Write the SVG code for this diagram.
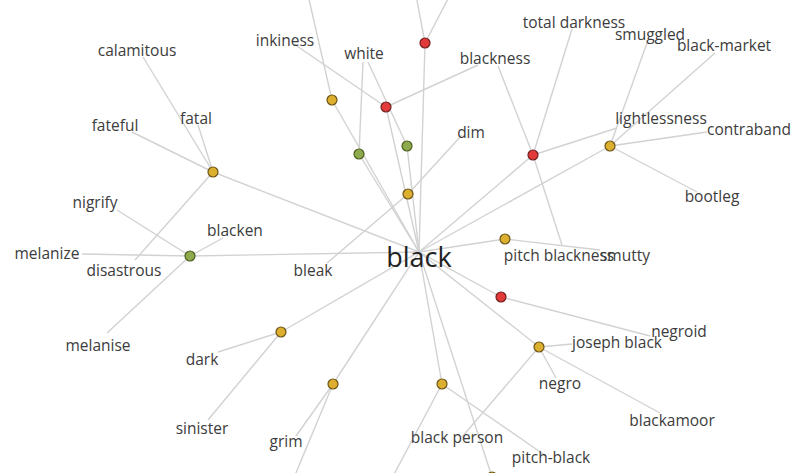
<svg xmlns="http://www.w3.org/2000/svg" width="801" height="473" viewBox="0 0 801 473">
<style>
.e{stroke:#d2d2d2;stroke-width:1.4;fill:none}
.lb{font-family:"Open Sans","Noto Sans",sans-serif;font-size:15.5px;fill:#3c3c3c;text-anchor:middle}
.hub{font-family:"Open Sans","Noto Sans",sans-serif;font-size:27px;fill:#222;text-anchor:middle}
.r{fill:#e23a3a;stroke:#702020;stroke-width:1.2}
.y{fill:#dcb02e;stroke:#6a5418;stroke-width:1.2}
.g{fill:#8daa4c;stroke:#4c5e1e;stroke-width:1.2}
</style>
<rect width="801" height="473" fill="#fff"/>
<g id="connectors">
<!-- hub edges -->
<line class="e" x1="419" y1="252" x2="425" y2="43"/>
<line class="e" x1="419" y1="252" x2="332" y2="100"/>
<line class="e" x1="419" y1="252" x2="359" y2="154"/>
<line class="e" x1="419" y1="252" x2="386" y2="107"/>
<line class="e" x1="419" y1="252" x2="407" y2="146"/>
<line class="e" x1="419" y1="252" x2="213" y2="172"/>
<line class="e" x1="419" y1="252" x2="190" y2="256"/>
<line class="e" x1="419" y1="252" x2="281" y2="332"/>
<line class="e" x1="419" y1="252" x2="333" y2="384"/>
<line class="e" x1="419" y1="252" x2="442" y2="384"/>
<line class="e" x1="419" y1="252" x2="492" y2="477"/>
<line class="e" x1="419" y1="252" x2="539" y2="347"/>
<line class="e" x1="419" y1="252" x2="501" y2="297"/>
<line class="e" x1="419" y1="252" x2="505" y2="239"/>
<line class="e" x1="419" y1="252" x2="533" y2="155"/>
<line class="e" x1="419" y1="252" x2="610" y2="146"/>
<!-- top -->
<line class="e" x1="425" y1="43" x2="416" y2="-5"/>
<line class="e" x1="425" y1="43" x2="450" y2="-5"/>
<line class="e" x1="332" y1="100" x2="308" y2="-5"/>
<line class="e" x1="386" y1="107" x2="294" y2="44"/>
<line class="e" x1="386" y1="107" x2="478" y2="65"/>
<line class="e" x1="363" y1="62" x2="359" y2="154"/>
<line class="e" x1="368" y1="62" x2="407" y2="146"/>
<line class="e" x1="408" y1="194" x2="462" y2="135"/>
<line class="e" x1="408" y1="194" x2="327" y2="263"/>
<!-- left -->
<line class="e" x1="213" y1="172" x2="143" y2="57"/>
<line class="e" x1="213" y1="172" x2="198" y2="125"/>
<line class="e" x1="213" y1="172" x2="132" y2="132"/>
<line class="e" x1="213" y1="172" x2="135" y2="260"/>
<line class="e" x1="190" y1="256" x2="82" y2="254"/>
<line class="e" x1="190" y1="256" x2="117" y2="210"/>
<line class="e" x1="190" y1="256" x2="223" y2="238"/>
<line class="e" x1="190" y1="256" x2="107" y2="333"/>
<line class="e" x1="281" y1="332" x2="218" y2="352"/>
<line class="e" x1="281" y1="332" x2="208" y2="420"/>
<line class="e" x1="333" y1="384" x2="296" y2="436"/>
<line class="e" x1="333" y1="384" x2="293" y2="480"/>
<!-- bottom -->
<line class="e" x1="442" y1="384" x2="391" y2="480"/>
<line class="e" x1="442" y1="384" x2="546" y2="456"/>
<line class="e" x1="539" y1="347" x2="572" y2="344"/>
<line class="e" x1="539" y1="347" x2="556" y2="378"/>
<line class="e" x1="539" y1="347" x2="660" y2="413"/>
<line class="e" x1="539" y1="347" x2="462" y2="437"/>
<line class="e" x1="501" y1="297" x2="650" y2="336"/>
<!-- right -->
<line class="e" x1="505" y1="239" x2="600" y2="250"/>
<line class="e" x1="533" y1="155" x2="572" y2="29"/>
<line class="e" x1="533" y1="155" x2="498" y2="66"/>
<line class="e" x1="533" y1="155" x2="617" y2="128"/>
<line class="e" x1="533" y1="155" x2="562" y2="245"/>
<line class="e" x1="610" y1="146" x2="647" y2="43"/>
<line class="e" x1="610" y1="146" x2="715" y2="53"/>
<line class="e" x1="610" y1="146" x2="707" y2="132"/>
<line class="e" x1="610" y1="146" x2="697" y2="192"/>
</g>
<g id="s-red-top"><circle class="r" cx="425" cy="43" r="5"/></g>
<g id="s-yel-top"><circle class="y" cx="332" cy="100" r="5"/></g>
<g id="s-red-inkiness"><circle class="r" cx="386" cy="107" r="5"/></g>
<g id="s-grn-1"><circle class="g" cx="359" cy="154" r="5"/></g>
<g id="s-grn-2"><circle class="g" cx="407" cy="146" r="5"/></g>
<g id="s-yel-dim"><circle class="y" cx="408" cy="194" r="5"/></g>
<g id="s-yel-fatal"><circle class="y" cx="213" cy="172" r="5"/></g>
<g id="s-grn-blacken"><circle class="g" cx="190" cy="256" r="5"/></g>
<g id="s-yel-dark"><circle class="y" cx="281" cy="332" r="5"/></g>
<g id="s-yel-grim"><circle class="y" cx="333" cy="384" r="5"/></g>
<g id="s-yel-bp"><circle class="y" cx="442" cy="384" r="5"/></g>
<g id="s-yel-bottom"><circle class="y" cx="492" cy="477" r="5"/></g>
<g id="s-yel-negro"><circle class="y" cx="539" cy="347" r="5"/></g>
<g id="s-red-joseph"><circle class="r" cx="501" cy="297" r="5"/></g>
<g id="s-yel-smutty"><circle class="y" cx="505" cy="239" r="5"/></g>
<g id="s-red-darkness"><circle class="r" cx="533" cy="155" r="5"/></g>
<g id="s-yel-smuggled"><circle class="y" cx="610" cy="146" r="5"/></g>
<g id="w-black"><text class="hub" x="419" y="267">black</text></g>
<g id="w-calamitous"><text class="lb" x="137" y="56">calamitous</text></g>
<g id="w-fatal"><text class="lb" x="196" y="124">fatal</text></g>
<g id="w-fateful"><text class="lb" x="115" y="131">fateful</text></g>
<g id="w-nigrify"><text class="lb" x="95" y="208">nigrify</text></g>
<g id="w-blacken"><text class="lb" x="235" y="236">blacken</text></g>
<g id="w-melanize"><text class="lb" x="47" y="259">melanize</text></g>
<g id="w-disastrous"><text class="lb" x="124" y="276">disastrous</text></g>
<g id="w-melanise"><text class="lb" x="98" y="351">melanise</text></g>
<g id="w-dark"><text class="lb" x="202" y="365">dark</text></g>
<g id="w-sinister"><text class="lb" x="202" y="434">sinister</text></g>
<g id="w-grim"><text class="lb" x="286" y="447">grim</text></g>
<g id="w-bleak"><text class="lb" x="313" y="276">bleak</text></g>
<g id="w-inkiness"><text class="lb" x="285" y="46">inkiness</text></g>
<g id="w-white"><text class="lb" x="364" y="59">white</text></g>
<g id="w-blackness"><text class="lb" x="495" y="64">blackness</text></g>
<g id="w-dim"><text class="lb" x="471" y="138">dim</text></g>
<g id="w-total-darkness"><text class="lb" x="574" y="28">total darkness</text></g>
<g id="w-smuggled"><text class="lb" x="650" y="40">smuggled</text></g>
<g id="w-black-market"><text class="lb" x="724" y="51">black-market</text></g>
<g id="w-lightlessness"><text class="lb" x="661" y="124">lightlessness</text></g>
<g id="w-contraband"><text class="lb" x="749" y="135">contraband</text></g>
<g id="w-bootleg"><text class="lb" x="712" y="202">bootleg</text></g>
<g id="w-pitch-blackness"><text class="lb" x="559" y="261">pitch blackness</text></g>
<g id="w-smutty"><text class="lb" x="625" y="261">smutty</text></g>
<g id="w-joseph-black"><text class="lb" x="617" y="348">joseph black</text></g>
<g id="w-negroid"><text class="lb" x="679" y="337">negroid</text></g>
<g id="w-negro"><text class="lb" x="560" y="389">negro</text></g>
<g id="w-blackamoor"><text class="lb" x="672" y="426">blackamoor</text></g>
<g id="w-pitch-black"><text class="lb" x="551" y="463">pitch-black</text></g>
<g id="w-black-person"><text class="lb" x="457" y="443">black person</text></g>
</svg>
